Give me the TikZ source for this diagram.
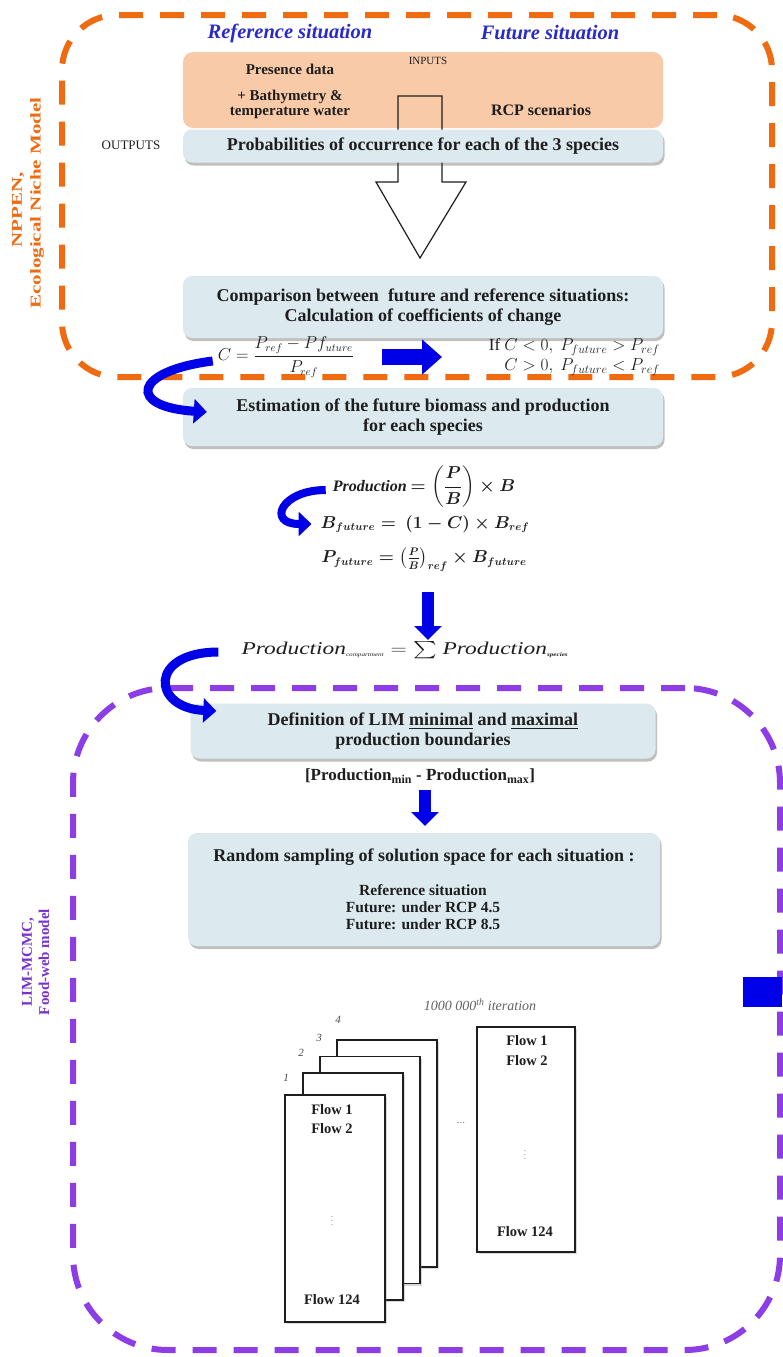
\documentclass[tikz,border=0pt]{standalone}
\usepackage{fontspec}
\setmainfont{Liberation Serif}
\usepackage{amsmath}
\usetikzlibrary{arrows.meta,shadows}

\definecolor{orng}{HTML}{EE6B12}
\definecolor{peach}{HTML}{F8CAA8}
\definecolor{lblue}{HTML}{DCEAF0}
\definecolor{dblue}{HTML}{0000E8}
\definecolor{purp}{HTML}{8C3DE6}
\definecolor{purptxt}{HTML}{7733CC}
\definecolor{reftxt}{HTML}{2A2AC8}
\definecolor{ink}{HTML}{1E1E1E}

\begin{document}
\begin{tikzpicture}[x=1pt,y=-1pt,
  frameO/.style={draw=orng,line width=6pt,dash pattern=on 24pt off 17pt,rounded corners=55pt,inner sep=0},
  frameP/.style={draw=purp,line width=6pt,dash pattern=on 24pt off 17pt,rounded corners=95pt,inner sep=0},
  bluebox/.style={fill=lblue,rounded corners=9pt,inner sep=0,align=center,text=ink,
     font=\fontsize{18}{20}\selectfont\bfseries,
     drop shadow={shadow xshift=1.5pt,shadow yshift=-3pt,opacity=0.35,fill=black!70}},
  peachbox/.style={fill=peach,rounded corners=10pt,inner sep=0},
  smalltxt/.style={font=\fontsize{11}{13}\selectfont,text=ink},
  intxt/.style={font=\fontsize{15}{15}\selectfont\bfseries,text=ink,align=center},
  boxtxt/.style={font=\fontsize{18}{20}\selectfont\bfseries,text=ink,align=center},
  subtxt/.style={font=\fontsize{15.5}{17}\selectfont\bfseries,text=ink,align=center},
  sitlbl/.style={font=\fontsize{20.5}{22}\selectfont\bfseries\itshape,text=reftxt},
  grplbl/.style={rotate=90,font=\fontsize{15}{18}\selectfont\bfseries},
  formula/.style={font=\fontsize{16}{20}\selectfont,text=ink,inner sep=1pt},
  bformula/.style={font=\fontsize{16}{20}\selectfont\boldmath,text=ink,inner sep=1pt},
  bigarrow/.style={draw=dblue,line width=16pt,-{Triangle[length=20pt,width=34pt]}},
  downarrow/.style={draw=dblue,line width=12pt,-{Triangle[length=14pt,width=27pt]}},
  curvearrow/.style={draw=dblue,line width=9pt,-{Triangle[length=13pt,width=24pt]}},
  flowpage/.style={draw=ink,line width=1.3pt,fill=white,minimum width=100pt,minimum height=227pt,inner sep=0,
     drop shadow={shadow xshift=2pt,shadow yshift=-2pt,opacity=0.3}},
  flowtxt/.style={font=\fontsize{14.5}{16}\selectfont\bfseries,text=ink},
  pagenum/.style={font=\fontsize{11}{12}\selectfont\itshape,text=ink!80},
  dotstxt/.style={font=\fontsize{9}{10}\selectfont,text=gray}
]
\useasboundingbox (0,0) rectangle (782,1357);
\fill[white] (0,0) rectangle (782,1357);

% group frames
\node[frameO,minimum width=710pt,minimum height=362pt] (niche) at (417,196) {};
\node[frameP,minimum width=707pt,minimum height=662pt] (lim) at (426.5,1019) {};
\node[grplbl,text=orng] (nichelbl1) at (18,210) {\scalebox{1.4}[1]{NPPEN,}};
\node[grplbl,text=orng] (nichelbl2) at (37,203) {\scalebox{1.4}[1]{Ecological Niche Model}};
\node[grplbl,text=purptxt] (limlbl1) at (28,962) {LIM-MCMC,};
\node[grplbl,text=purptxt] (limlbl2) at (44,962) {Food-web model};

% situations
\node[sitlbl] (refsit) at (290,33) {Reference situation};
\node[sitlbl] (futsit) at (550,33) {Future situation};

% inputs
\node[peachbox,minimum width=480pt,minimum height=76pt] (inbox) at (423,90) {};
\node[smalltxt] (inputs) at (428,61) {INPUTS};
\node[intxt] (pres) at (290,69) {Presence data};
\node[intxt] (bathy) at (290,104) {+ Bathymetry \&\\temperature water};
\node[intxt,font=\fontsize{16}{16}\selectfont\bfseries] (rcp) at (541,110) {RCP scenarios};

% hollow arrow
\draw[ink,line width=1.2pt,line join=miter] (398,96) -- (442,96) -- (442,182) -- (466,182) -- (420,258) -- (376,182) -- (398,182) -- cycle;

% outputs
\node[bluebox,minimum width=480pt,minimum height=33pt] (outbox) at (423,146) {Probabilities of occurrence for each of the 3 species};
\node[smalltxt,font=\fontsize{13}{14}\selectfont] (outputs) at (131,145) {OUTPUTS};

% comparison
\node[bluebox,minimum width=480pt,minimum height=62pt] (cmp) at (423,307) {Comparison between\ \ future and reference situations:\\Calculation of coefficients of change};
\node[formula] (cform) at (286,357) {$C=\dfrac{P_{ref}-Pf_{uture}}{P_{ref}}$};
\node[formula,font=\fontsize{17}{20}\selectfont,align=right,anchor=east] (ifc) at (661,357) {If $C<0,\ P_{future}>P_{ref}$\\$C>0,\ P_{future}<P_{ref}$};
\coordinate (ha) at (382,357);
\coordinate (hb) at (442,357);
\draw[bigarrow] (ha) -- (hb);

% estimation
\node[bluebox,minimum width=480pt,minimum height=58pt] (est) at (423,417) {Estimation of the future biomass and production\\for each species};
\draw[curvearrow] ([xshift=-4pt,yshift=-4pt]cform.west) .. controls +(-80,10) and +(-80,-5) .. ([xshift=24pt,yshift=5pt]est.west);

% production formulas
\node[bformula] (prod) at (424,487) {\textbf{\textit{Production}} $=\left(\dfrac{P}{B}\right)\times B$};
\node[bformula] (bfut) at (425,524) {$B_{future}=\ (1-C)\times B_{ref}$};
\node[bformula] (pfut) at (424,560) {$P_{future}=\left(\frac{P}{B}\right)_{ref}\times B_{future}$};
\draw[curvearrow,line width=8pt] ([xshift=-6pt,yshift=-3pt]prod.west) .. controls +(-45,0) and +(-45,0) .. ([xshift=-8pt]bfut.west);

\coordinate (d1a) at (428,592);
\coordinate (d1b) at (428,640);
\draw[downarrow] (d1a) -- (d1b);

\node[formula,font=\fontsize{18}{20}\selectfont] (sigma) at (405,650) {\scalebox{1.3}[1]{\textit{Production}$_{\mbox{\fontsize{5.5}{6}\selectfont\itshape compartment}}=\sum$ \textit{Production}$_{\mbox{\fontsize{5.5}{6}\selectfont\bfseries\itshape species}}$}};

% definition
\node[bluebox,minimum width=465pt,minimum height=55pt] (def) at (423,731) {Definition of LIM \underline{minimal} and \underline{maximal}\\production boundaries};
\draw[curvearrow] ([xshift=-22pt,yshift=-2pt]sigma.west) .. controls +(-70,0) and +(-65,-3) .. ([xshift=26pt,yshift=20pt]def.west);

\node[font=\fontsize{17}{18}\selectfont\bfseries,text=ink] (rng) at (420,776) {[Production\textsubscript{min} - Production\textsubscript{max}]};
\coordinate (d2a) at (425,790);
\coordinate (d2b) at (425,826);
\draw[downarrow] (d2a) -- (d2b);

% random sampling
\node[bluebox,minimum width=472pt,minimum height=113pt] (rand) at (424,889.5) {};
\node[boxtxt] (randt) at (424,857) {Random sampling of solution space for each situation :};
\node[subtxt] (rands) at (423,907) {Reference situation\\Future: under RCP 4.5\\Future: under RCP 8.5};

% right bar
\fill[dblue] (743,977) rectangle (782,1007);

% iterations
\node[font=\fontsize{14}{15}\selectfont\itshape,text=ink!70] (iter) at (480,1005) {1000 000\textsuperscript{th} iteration};
\node[flowpage] (p4) at (387,1153.5) {};
\node[flowpage] (p3) at (370,1170) {};
\node[flowpage] (p2) at (353,1186.5) {};
\node[flowpage] (p1) at (335,1208.5) {};
\node[flowpage,minimum width=98pt,minimum height=225pt] (plast) at (526,1139.5) {};

\node[pagenum] (n1) at (286,1078) {1};
\node[pagenum] (n2) at (301,1053) {2};
\node[pagenum] (n3) at (319,1038) {3};
\node[pagenum] (n4) at (338,1020) {4};

\node[flowtxt] (p1f1) at (332,1110) {Flow 1};
\node[flowtxt] (p1f2) at (332,1129) {Flow 2};
\node[dotstxt] (p1d) at (332,1218) {$\vdots$};
\node[flowtxt] (p1f124) at (332,1300) {Flow 124};

\node[flowtxt] (plf1) at (527,1041) {Flow 1};
\node[flowtxt] (plf2) at (527,1061) {Flow 2};
\node[dotstxt] (pld) at (525,1152) {$\vdots$};
\node[flowtxt] (plf124) at (525,1232) {Flow 124};

\node[dotstxt,font=\fontsize{11}{12}\selectfont] (ell) at (461,1123) {...};
\end{tikzpicture}
\end{document}
